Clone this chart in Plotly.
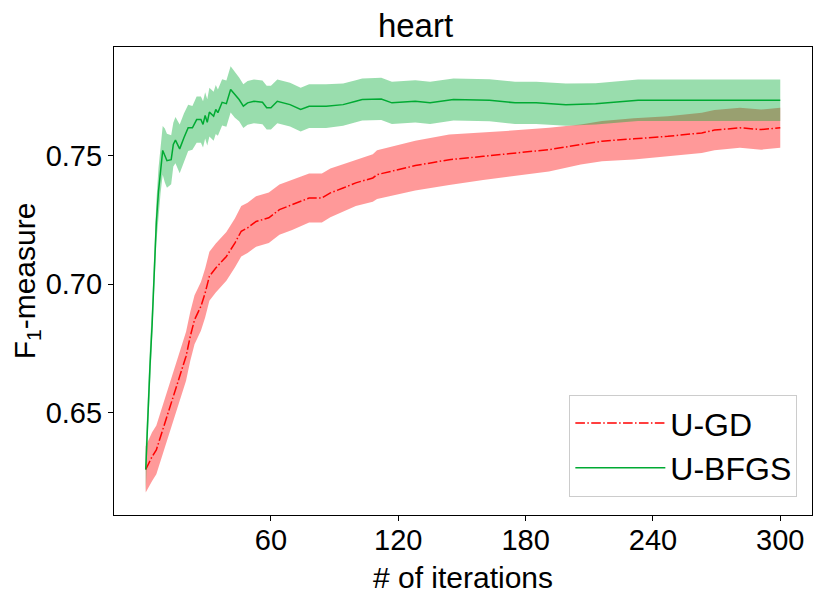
#!/usr/bin/env python
"""
F1-measure vs. iterations on the heart dataset, U-GD against U-BFGS,
mean curve with a shaded +/- spread band.
"""
import numpy as np
import plotly.graph_objects as go

# U-GD (red, dash-dot)
gd_iter = [1, 4, 6, 10, 14, 17, 20, 22, 24, 27, 29, 31, 34, 39, 43, 46, 49, 53, 59, 64,
           70, 78, 84, 88, 94, 100, 108, 110, 128, 144, 160, 175, 191, 206, 216, 231,
           247, 263, 269, 281, 291, 300]
gd_mean = [0.628, 0.633, 0.6356, 0.646, 0.6564, 0.6642, 0.672, 0.6798, 0.6862, 0.6914,
           0.6966, 0.7031, 0.7063, 0.7108, 0.716, 0.7206, 0.7219, 0.7244, 0.7258, 0.729,
           0.7309, 0.7335, 0.7335, 0.7355, 0.7374, 0.7394, 0.7413, 0.7426, 0.7461, 0.7484,
           0.7497, 0.751, 0.7523, 0.7543, 0.7556, 0.7565, 0.7575, 0.7588, 0.7599, 0.7608,
           0.7601, 0.7608]
gd_spread = [0.009, 0.0095, 0.0095, 0.0095, 0.0095, 0.0095, 0.0095, 0.0095, 0.0095, 0.0095,
             0.0095, 0.0095, 0.0095, 0.0095, 0.0095, 0.0098, 0.0098, 0.0098, 0.0098, 0.0098,
             0.0098, 0.0095, 0.0095, 0.0095, 0.0092, 0.009, 0.0092, 0.0095, 0.0097, 0.0098,
             0.0092, 0.0088, 0.0085, 0.0078, 0.0078, 0.008, 0.0078, 0.0078, 0.0078, 0.0078,
             0.0078, 0.0078]

# U-BFGS (green, solid)
bfgs_iter = [1, 2, 3, 4, 5, 6, 7, 8, 9, 10, 11, 13, 14, 15, 17, 19, 21, 23, 25, 27, 28,
             29, 30, 31, 33, 34, 35, 37, 39, 41, 43, 45, 47, 49, 52, 56, 58, 60, 63, 69,
             74, 78, 86, 94, 100, 103, 112, 117, 128, 135, 146, 163, 175, 185, 199, 213,
             233, 258, 300]
bfgs_mean = [0.628, 0.650, 0.668, 0.684, 0.706, 0.724, 0.736, 0.745, 0.752, 0.750, 0.748,
             0.7484, 0.7543, 0.756, 0.7526, 0.7569, 0.7608, 0.7608, 0.764, 0.764, 0.7621,
             0.7656, 0.7629, 0.7669, 0.7653, 0.7679, 0.7667, 0.7707, 0.7702, 0.7757, 0.7737,
             0.7718, 0.7692, 0.7705, 0.7711, 0.7707, 0.7686, 0.7686, 0.7711, 0.7698, 0.7679,
             0.7692, 0.7692, 0.7698, 0.7711, 0.7718, 0.772, 0.7705, 0.7711, 0.7705, 0.7718,
             0.7715, 0.7705, 0.7705, 0.7698, 0.7701, 0.7715, 0.7714, 0.7715]
bfgs_spread = [0.009, 0.008, 0.008, 0.008, 0.008, 0.008, 0.009, 0.0095, 0.0095, 0.0105, 0.0105,
               0.0095, 0.0085, 0.009, 0.0095, 0.0095, 0.009, 0.0085, 0.009, 0.009, 0.009,
               0.009, 0.009, 0.0095, 0.0095, 0.0095, 0.009, 0.009, 0.009, 0.009, 0.009,
               0.0085, 0.0085, 0.0085, 0.0085, 0.0085, 0.0085, 0.0085, 0.0085, 0.0085, 0.0085,
               0.0085, 0.0085, 0.0082, 0.0082, 0.0082, 0.0082, 0.0082, 0.0082, 0.0082, 0.0082,
               0.0082, 0.0082, 0.0082, 0.0082, 0.008, 0.0081, 0.0081, 0.0081]

x_ticks = [60, 120, 180, 240, 300]
y_ticks = [0.65, 0.70, 0.75]

FONT = "Liberation Sans"


def band(x, mean, spread, color, name):
    x = np.asarray(x, dtype=float)
    m = np.asarray(mean)
    s = np.asarray(spread)
    return go.Scatter(x=np.concatenate([x, x[::-1]]),
                      y=np.concatenate([m + s, (m - s)[::-1]]),
                      fill="toself", fillcolor=color, mode="lines",
                      line=dict(width=0), hoverinfo="skip",
                      showlegend=False, name=name)


def build_figure():
    fig = go.Figure()
    fig.add_trace(band(gd_iter, gd_mean, gd_spread, "rgba(255,0,0,0.4)", "U-GD band"))
    fig.add_trace(band(bfgs_iter, bfgs_mean, bfgs_spread, "rgba(0,170,51,0.4)", "U-BFGS band"))
    fig.add_scatter(x=gd_iter, y=gd_mean, name="U-GD", mode="lines",
                    line=dict(color="#ff0000", width=1.5, dash="9.6px,2.4px,1.5px,2.4px"))
    fig.add_scatter(x=bfgs_iter, y=bfgs_mean, name="U-BFGS", mode="lines",
                    line=dict(color="#00aa33", width=1.5))

    axis = dict(showline=True, linecolor="black", linewidth=1.2, mirror=True,
                ticks="outside", ticklen=5, tickwidth=1.2, tickcolor="black",
                showgrid=False, zeroline=False, automargin=False,
                tickfont=dict(family=FONT, size=29, color="black"))
    fig.update_xaxes(axis, range=[-13.95, 314.95], tickvals=x_ticks,
                     ticklabelstandoff=-6,
                     title=dict(text="# of iterations", standoff=21,
                                font=dict(family=FONT, size=30, color="black")))
    fig.update_yaxes(axis, range=[0.6103, 0.7922], tickvals=y_ticks, tickformat=".2f",
                     title=dict(text="F<sub>1</sub>-measure", standoff=16,
                                font=dict(family=FONT, size=30, color="black")))

    # the page adds an 8px body margin, so the figure is drawn 8px smaller and shifted
    fig.update_layout(
        width=815, height=586,
        margin=dict(l=106, r=11, t=39, b=79),
        plot_bgcolor="white", paper_bgcolor="white",
        title=dict(text="heart", x=0.5, xanchor="center", yref="paper",
                   y=1, yanchor="bottom", pad=dict(b=10),
                   font=dict(family=FONT, size=33, color="black")),
        legend=dict(x=0.979, y=0.039, xanchor="right", yanchor="bottom",
                    bgcolor="white", bordercolor="#cccccc", borderwidth=1,
                    font=dict(family=FONT, size=32, color="black"),
                    itemwidth=90, tracegroupgap=4),
    )
    return fig


if __name__ == '__main__':
    fig = build_figure()
    fig.write_html("out.html")
